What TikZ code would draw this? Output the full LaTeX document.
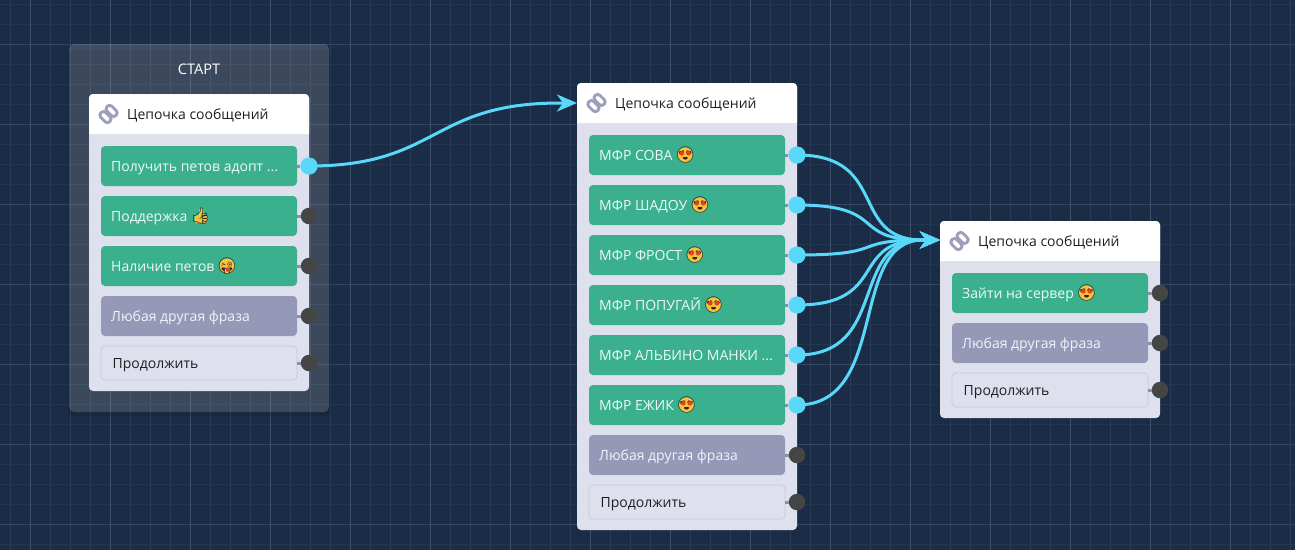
\documentclass[tikz,border=0pt]{standalone}
\usepackage{fontspec}
\setmainfont{Open Sans}
\newfontfamily\emojifont{Noto Emoji}
\usetikzlibrary{arrows.meta}
\definecolor{bgc}{HTML}{1A2C46}
\definecolor{gridminorv}{HTML}{2A3D58}
\definecolor{gridminorh}{HTML}{233650}
\definecolor{gridmajorv}{HTML}{3F506A}
\definecolor{gridmajorh}{HTML}{344662}
\definecolor{bodyc}{HTML}{DFE0EE}
\definecolor{greenc}{HTML}{3AB08E}
\definecolor{greyc}{HTML}{9698B8}
\definecolor{contb}{HTML}{C7C8DA}
\definecolor{wirec}{HTML}{5AD8FA}
\definecolor{dotoff}{HTML}{454545}
\definecolor{stubc}{HTML}{8C8EA8}
\definecolor{iconc}{HTML}{9D9DBC}
\definecolor{emoy}{HTML}{F7C23C}
\definecolor{emor}{HTML}{E5402A}
\tikzset{
 gridline/.style={line width=.65pt},
 groupbox/.style={fill=white,fill opacity=.16,rounded corners=5pt,draw=none},
 cardbody/.style={fill=bodyc,rounded corners=4pt,inner sep=0,outer sep=0,anchor=north west,minimum width=220pt},
 headfill/.style={fill=white},
 headtext/.style={anchor=base west,inner sep=0,text=black!88,font=\fontsize{14}{16}\selectfont},
 btnbase/.style={rounded corners=4pt,inner sep=0,outer sep=0,anchor=north west,minimum width=196pt},
 btngreen/.style={btnbase,fill=greenc,minimum height=40pt},
 btngrey/.style={btnbase,fill=greyc,minimum height=40pt},
 btncont/.style={btnbase,fill=bodyc,draw=contb,line width=.8pt,minimum height=34pt},
 lbl/.style={anchor=base west,inner sep=0,text=white!92!greenc,font=\fontsize{14}{16}\selectfont},
 lblg/.style={anchor=base west,inner sep=0,text=white!88!greyc,font=\fontsize{14}{16}\selectfont},
 lblc/.style={anchor=base west,inner sep=0,xshift=1.5pt,text=black!88,font=\fontsize{14}{16}\selectfont},
 emo/.style={inner sep=0,anchor=center,text=black!85,font=\emojifont\fontsize{16}{16}\selectfont},
 stub/.style={stubc,line width=3pt},
 dotlive/.style={circle,fill=wirec,inner sep=0,minimum size=17pt},
 dotidle/.style={circle,fill=dotoff,inner sep=0,minimum size=16.5pt},
 wire/.style={wirec,line width=3pt,-{Stealth[length=20pt,width=17pt,inset=6pt]}},
 linkring/.style={draw=iconc,line width=2.9pt,rounded corners=3.2pt,rotate=-45,inner sep=0,minimum width=12.5pt,minimum height=7pt},
 starttitle/.style={text=white,font=\fontsize{14.6}{16}\selectfont,inner sep=0},
}
% card: name, x, y, height
\newcommand{\chaincard}[4]{%
 \node[cardbody,minimum height=#4pt] (#1) at (#2,#3) {};
 \fill[headfill] (#2,#3+40) [rounded corners=4pt] -- (#2,#3) -- (#2+220,#3) [sharp corners] -- (#2+220,#3+40) -- cycle;
 \node[linkring] (#1-la) at (#2+19.5-3.1,#3+20+3.1) {};
 \node[linkring] (#1-lb) at (#2+19.5+3.1,#3+20-3.1) {};
 \node[headtext] (#1-t) at (#2+38,#3+25) {Цепочка сообщений};
}
% button: name, x, y, style, label style, text, dot style
\newcommand{\chainbtn}[7]{%
 \node[#4] (#1) at (#2,#3) {};
 \node[#5] (#1-t) at ([xshift=10pt,yshift=-5pt]#1.west) {#6};
 \node[#7] (#1-d) at ([xshift=12pt]#1.east) {};
 \draw[stub] (#1.east) -- (#1-d.west);
}
% heart-eyes face: name, anchor label
\newcommand{\emojilove}[2]{%
 \coordinate (#1-c) at ([xshift=12.5pt,yshift=5pt]#2.base east);
 \fill[emoy] (#1-c) circle[radius=7.6pt];
 \node[emo] (#1) at (#1-c) {😍};
 \fill[emor] ([shift={(-3.3pt,1.8pt)}]#1-c) circle[radius=2.3pt];
 \fill[emor] ([shift={(3.3pt,1.8pt)}]#1-c) circle[radius=2.3pt];
}
\begin{document}
\begin{tikzpicture}[x=1pt,y=-1pt]
\useasboundingbox (0,0) rectangle (1295,550);
\fill[bgc] (0,0) rectangle (1295,550);
\foreach \gy in {4,24,...,544} \draw[gridline,gridminorh] (0,\gy) -- (1295,\gy);
\foreach \gx in {10,30,...,1290} \draw[gridline,gridminorv] (\gx,0) -- (\gx,550);
\foreach \gy in {44,124,...,544} \draw[gridline,gridmajorh] (0,\gy) -- (1295,\gy);
\foreach \gx in {30,110,...,1290} \draw[gridline,gridmajorv] (\gx,0) -- (\gx,550);

% start group
\fill[black,opacity=.10,rounded corners=7pt] (67,50) rectangle (331,416);
\fill[groupbox] (69,44) rectangle (329,412);
\node[starttitle] (starttitle) at (199,69) {СТАРТ};

% cards
\chaincard{a}{89}{94}{297}
\chaincard{b}{577}{83}{447}
\chaincard{c}{940}{221}{197}

\chainbtn{a1}{101}{146}{btngreen}{lbl}{Получить петов адопт ...}{dotlive}
\chainbtn{a2}{101}{196}{btngreen}{lbl}{Поддержка}{dotidle}
\coordinate (a2e-c) at ([xshift=13pt,yshift=5pt]a2-t.base east);
\fill[emoy,rounded corners=2pt] ([shift={(-6pt,-7pt)}]a2e-c) rectangle ([shift={(6.5pt,1pt)}]a2e-c);
\fill[emoy,rounded corners=1.5pt] ([shift={(-1.5pt,-2pt)}]a2e-c) rectangle ([shift={(3pt,7.5pt)}]a2e-c);
\node[emo] (a2e) at (a2e-c) {👍};
\chainbtn{a3}{101}{246}{btngreen}{lbl}{Наличие петов}{dotidle}
\coordinate (a3e-c) at ([xshift=12.5pt,yshift=5pt]a3-t.base east);
\fill[emoy] (a3e-c) circle[radius=7.6pt];
\node[emo] (a3e) at (a3e-c) {😜};
\fill[emor] ([shift={(1pt,-3.6pt)}]a3e-c) circle[radius=2.2pt];
\chainbtn{a4}{101}{296}{btngrey}{lblg}{Любая другая фраза}{dotidle}
\chainbtn{a5}{101}{346}{btncont}{lblc}{Продолжить}{dotidle}

\chainbtn{b1}{589}{135}{btngreen}{lbl}{МФР СОВА}{dotlive}
\emojilove{b1e}{b1-t}
\chainbtn{b2}{589}{185}{btngreen}{lbl}{МФР ШАДОУ}{dotlive}
\emojilove{b2e}{b2-t}
\chainbtn{b3}{589}{235}{btngreen}{lbl}{МФР ФРОСТ}{dotlive}
\emojilove{b3e}{b3-t}
\chainbtn{b4}{589}{285}{btngreen}{lbl}{МФР ПОПУГАЙ}{dotlive}
\emojilove{b4e}{b4-t}
\chainbtn{b5}{589}{335}{btngreen}{lbl}{МФР АЛЬБИНО МАНКИ ...}{dotlive}
\chainbtn{b6}{589}{385}{btngreen}{lbl}{МФР ЕЖИК}{dotlive}
\emojilove{b6e}{b6-t}
\chainbtn{b7}{589}{435}{btngrey}{lblg}{Любая другая фраза}{dotidle}
\chainbtn{b8}{589}{485}{btncont}{lblc}{Продолжить}{dotidle}

\chainbtn{c1}{952}{273}{btngreen}{lbl}{Зайти на сервер}{dotidle}
\emojilove{c1e}{c1-t}
\chainbtn{c2}{952}{323}{btngrey}{lblg}{Любая другая фраза}{dotidle}
\chainbtn{c3}{952}{373}{btncont}{lblc}{Продолжить}{dotidle}

% connector ends
\coordinate (bin) at (577,103);
\coordinate (cin) at (940,240);
\coordinate (binm) at (560,103);
\coordinate (cinm) at (923,240);

\draw[wire] (a1-d.center) .. controls +(130,0) and +(-130,0) .. (binm) -- (bin);
\foreach \w in {b1,b2,b3,b4,b5,b6}
 \draw[wire] (\w-d.center) .. controls +(93,0) and +(-75,0) .. (cinm) -- (cin);
\foreach \w in {a1,b1,b2,b3,b4,b5,b6}
 \node[dotlive] at (\w-d.center) {};
\end{tikzpicture}
\end{document}
